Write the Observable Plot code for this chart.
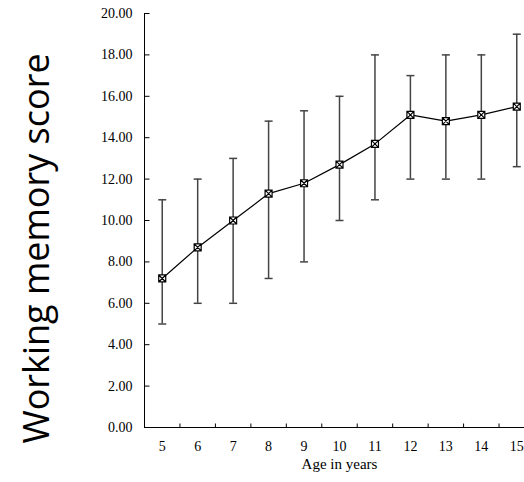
<!DOCTYPE html>
<html><head><meta charset="utf-8">
<script src="https://cdn.jsdelivr.net/npm/d3@7"></script>
<script src="https://cdn.jsdelivr.net/npm/@observablehq/plot@0.6"></script>
<style>body{margin:0;background:#fff;overflow:hidden}</style>
</head><body><div id="chart"></div>
<script>
const ages = [5, 6, 7, 8, 9, 10, 11, 12, 13, 14, 15];
const means = [7.2, 8.7, 10.0, 11.3, 11.8, 12.7, 13.7, 15.1, 14.8, 15.1, 15.5];
const lows = [5, 6, 6, 7.2, 8, 10, 11, 12, 12, 12, 12.6];
const highs = [11, 12, 13, 14.8, 15.3, 16, 18, 17, 18, 18, 19];
const yTicks = [0, 2, 4, 6, 8, 10, 12, 14, 16, 18, 20];
const yTitle = "Working memory score";
const xTitle = "Age in years";

const data = ages.map((a, i) => ({age: a, mean: means[i], low: lows[i], high: highs[i]}));
const bounds = ages.map(a => a + 0.5);
const xMin = ages[0] - 0.5;

const capSym = {draw(ctx) { ctx.moveTo(-4, 0); ctx.lineTo(4, 0); }};
const markSym = {draw(ctx) {
  const r = 3.5;
  ctx.moveTo(-r, -r); ctx.lineTo(r, -r); ctx.lineTo(r, r); ctx.lineTo(-r, r); ctx.closePath();
  ctx.moveTo(-r, -r); ctx.lineTo(r, r); ctx.moveTo(r, -r); ctx.lineTo(-r, r);
}};
const yTickSym = {draw(ctx) { ctx.moveTo(0, 0); ctx.lineTo(5, 0); }};
const xTickSym = {draw(ctx) { ctx.moveTo(0, 0); ctx.lineTo(0, -4); }};

const chart = Plot.plot({
  width: 540, height: 482,
  marginLeft: 144, marginRight: 6, marginTop: 13, marginBottom: 55,
  style: {fontFamily: "Liberation Serif", fontSize: "14px", background: "white", overflow: "visible", maxWidth: "none", color: "black"},
  x: {domain: [xMin, ages[ages.length - 1] + 0.5], ticks: ages, tickSize: 0, tickPadding: 14, tickFormat: d => String(d), line: true, label: null},
  y: {domain: [0, 20], ticks: yTicks, tickSize: 0, tickPadding: 12, tickFormat: d => d.toFixed(2), line: true, label: null},
  marks: [
    Plot.dot(yTicks, {x: () => xMin, y: d => d, symbol: yTickSym, stroke: "black", strokeWidth: 1}),
    Plot.dot(bounds, {x: d => d, y: () => 0, symbol: xTickSym, stroke: "black", strokeWidth: 1}),
    Plot.ruleX(data, {x: "age", y1: "low", y2: "high", stroke: "#444", strokeWidth: 1.5}),
    Plot.dot(data, {x: "age", y: "low", symbol: capSym, stroke: "#444", strokeWidth: 1.5}),
    Plot.dot(data, {x: "age", y: "high", symbol: capSym, stroke: "#444", strokeWidth: 1.5}),
    Plot.line(data, {x: "age", y: "mean", stroke: "black", strokeWidth: 1.2}),
    Plot.dot(data, {x: "age", y: "mean", symbol: markSym, fill: "white", stroke: "black", strokeWidth: 1.2}),
    Plot.text([yTitle], {text: d => d, frameAnchor: "left", textAnchor: "middle", rotate: -90, dx: -107, dy: 28, fontSize: 36, fontFamily: "Open Sans", fill: "black"}),
    Plot.text([xTitle], {text: d => d, frameAnchor: "bottom", dy: 41, fontSize: 15, fill: "black"})
  ]
});
document.getElementById("chart").appendChild(chart);
</script>
</body></html>
